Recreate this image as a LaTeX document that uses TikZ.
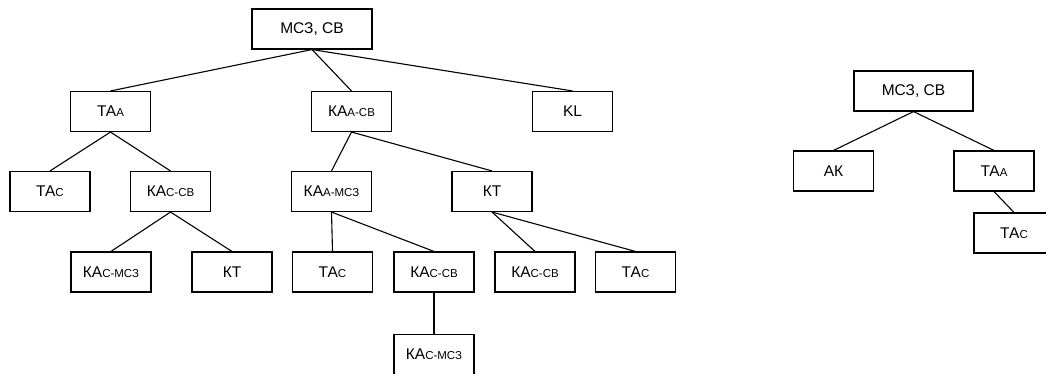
\documentclass[tikz,border=0pt]{standalone}
\usepackage{fontspec}
\setmainfont{Liberation Sans}
\usepackage{tikz}
\usetikzlibrary{positioning}

\newcommand{\idx}[1]{{\fontsize{11.5}{13}\selectfont #1}}

\begin{document}
\begin{tikzpicture}[
  x=1pt,y=-1pt,
  every node/.style={font=\fontsize{15.5}{18}\selectfont,align=center},
  box/.style={draw=black,line width=1.1pt,minimum width=80pt,
              minimum height=40pt,inner sep=0pt},
  rootbox/.style={box,minimum width=120pt},
  link/.style={line width=1.1pt}
]
\useasboundingbox (0,0) rectangle (1046,374);
% left tree
\node[rootbox] (root) at (312,29) {МСЗ, СВ};
\node[box] (taA) at (110.5,111.5) {ТА\idx{А}};
\node[box] (kaAcb) at (351.5,111.5) {КА\idx{А-СВ}};
\node[box] (kl) at (572.5,111.5) {KL};
\node[box] (taC) at (50,191.5) {ТА\idx{С}};
\node[box] (kaCcb) at (170.5,191.5) {КА\idx{С-СВ}};
\node[box] (kaAmcz) at (331.5,191.5) {КА\idx{А-МСЗ}};
\node[box] (kt) at (492,191.5) {КТ};
\node[box] (kaCmcz) at (111,272) {КА\idx{С-МСЗ}};
\node[box] (ktB) at (232,272) {КТ};
\node[box] (taCb) at (332.5,272) {ТА\idx{С}};
\node[box] (kaCcbB) at (434,272) {КА\idx{С-СВ}};
\node[box] (kaCcbC) at (535,272) {КА\idx{С-СВ}};
\node[box] (taCc) at (635.5,272) {ТА\idx{С}};
\node[box,below=0pt and 0pt of kaCcbB,yshift=-41pt] (kaCmczB) {КА\idx{С-МСЗ}};
% right tree
\node[rootbox,minimum width=119pt] (rootR) at (913.5,91) {МСЗ, СВ};
\node[box] (ak) at (833.5,171) {АК};
\node[box] (taAR) at (994,171) {ТА\idx{А}};
\node[box] (taCR) at (1014,233) {ТА\idx{С}};
% links
\draw[link] (root.south) -- (taA.north);
\draw[link] (root.south) -- (kaAcb.north);
\draw[link] (root.south) -- (kl.north);
\draw[link] (taA.south) -- (taC.north);
\draw[link] (taA.south) -- (kaCcb.north);
\draw[link] (kaAcb.south) -- (kaAmcz.north);
\draw[link] (kaAcb.south) -- (kt.north);
\draw[link] (kaCcb.south) -- (kaCmcz.north);
\draw[link] (kaCcb.south) -- (ktB.north);
\draw[link] (kaAmcz.south) -- (taCb.north);
\draw[link] (kaAmcz.south) -- (kaCcbB.north);
\draw[link] (kt.south) -- (kaCcbC.north);
\draw[link] (kt.south) -- (taCc.north);
\draw[link] (kaCcbB.south) -- (kaCmczB.north);
\draw[link] (rootR.south) -- (ak.north);
\draw[link] (rootR.south) -- (taAR.north);
\draw[link] (taAR.south) -- (taCR.north);
\end{tikzpicture}
\end{document}
